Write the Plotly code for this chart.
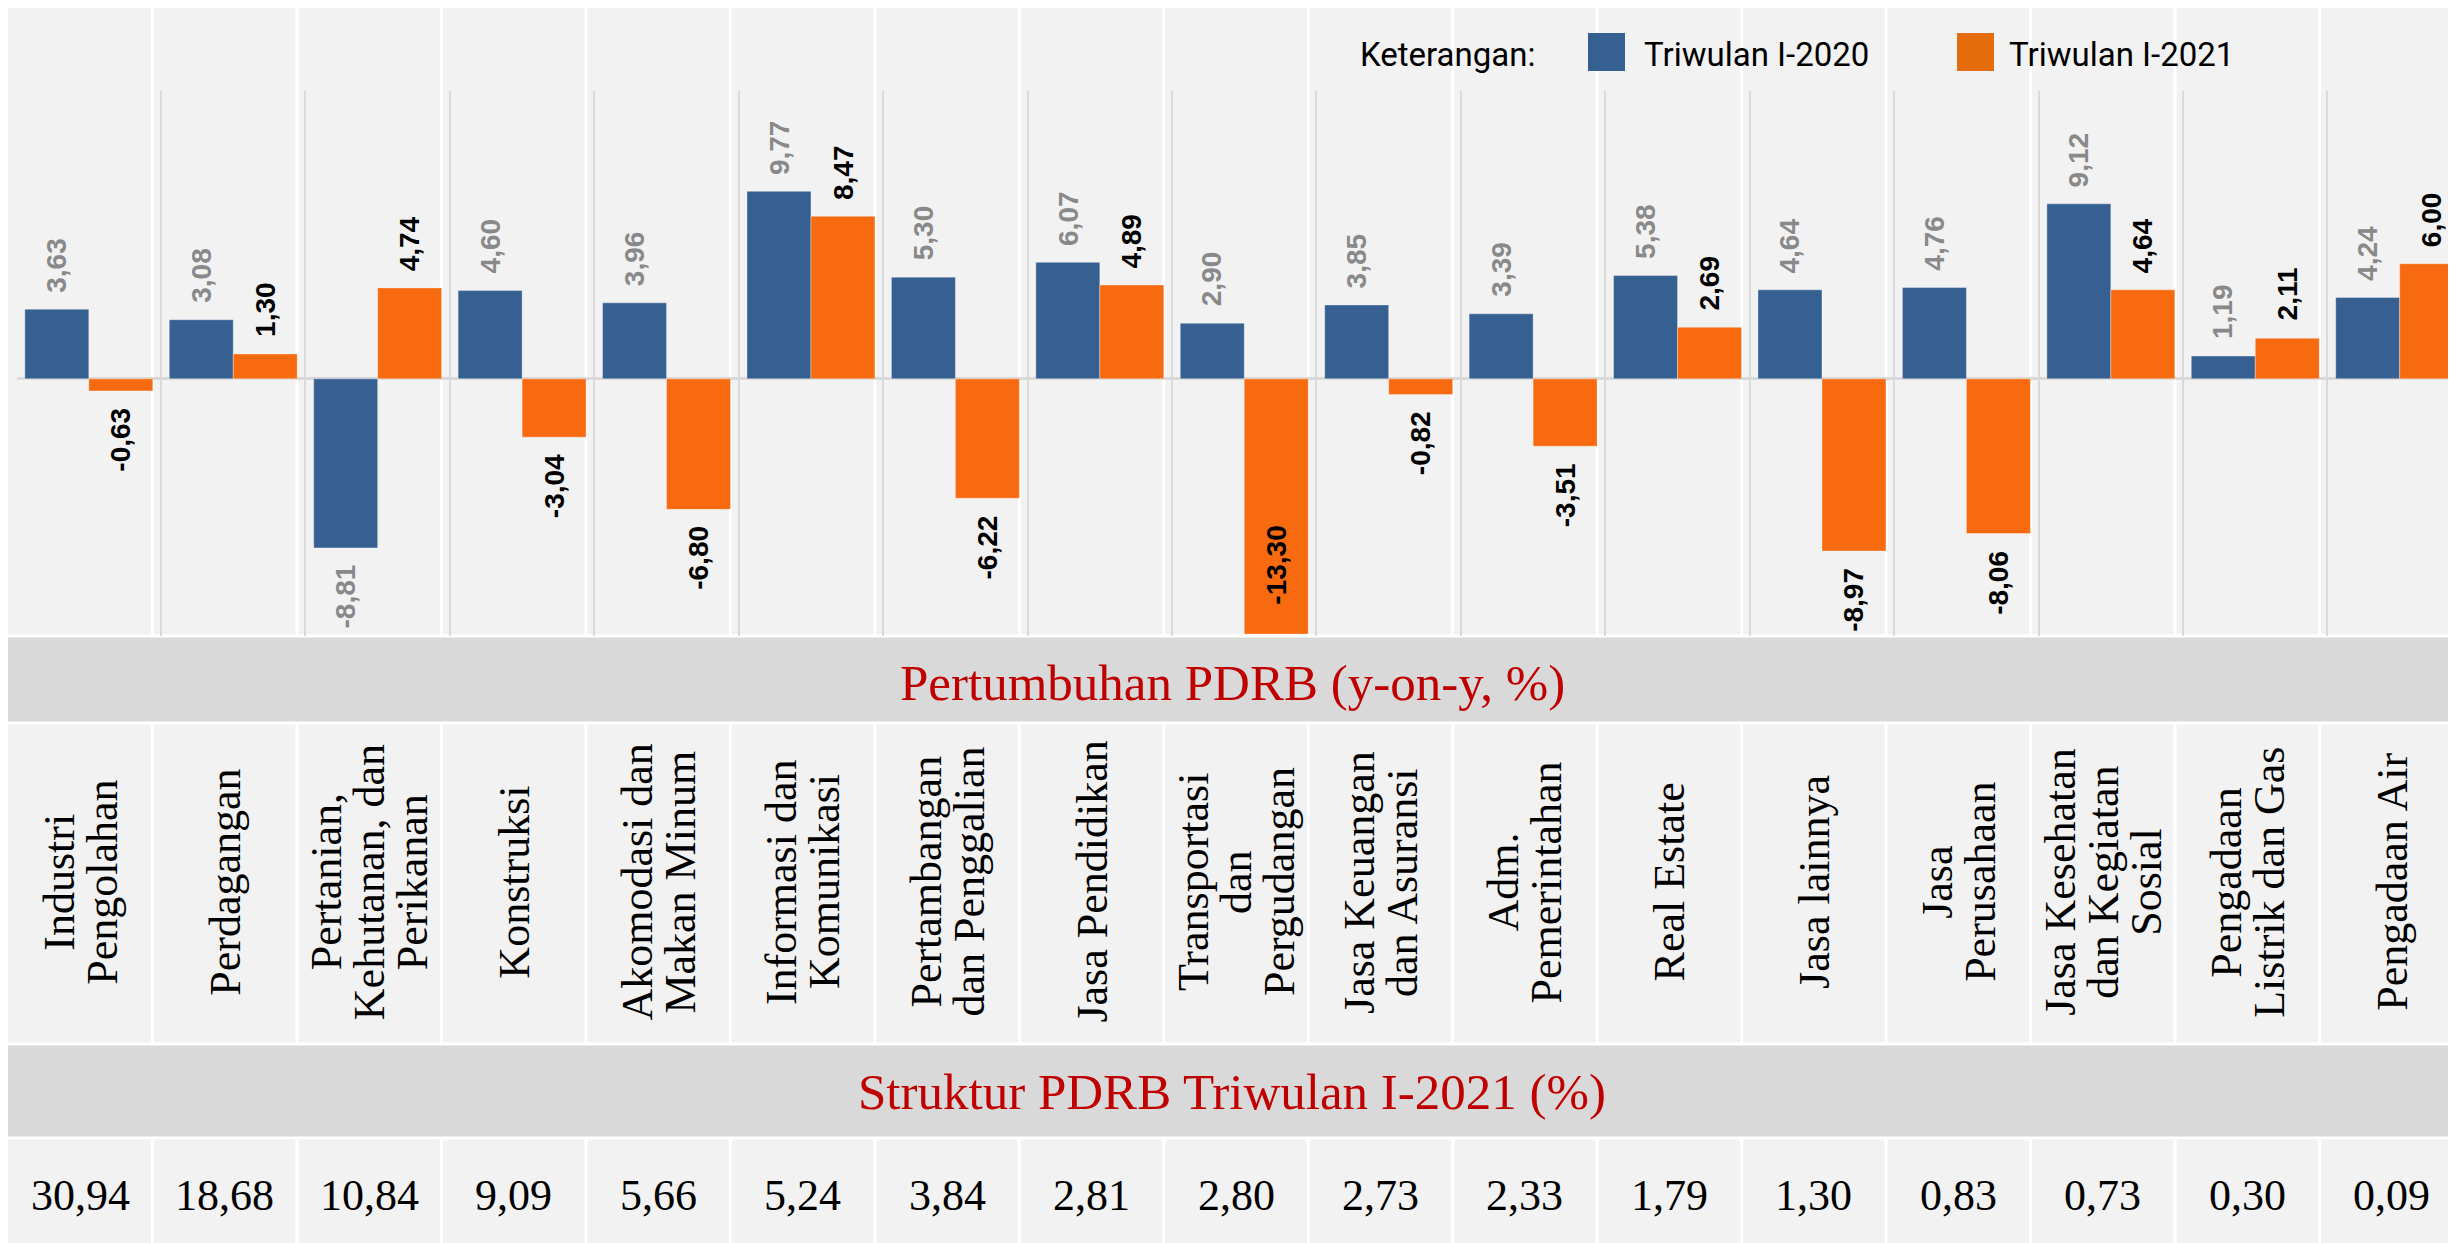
import plotly.graph_objects as go

# data
CATEGORIES = [
    "Industri\nPengolahan",
    "Perdagangan",
    "Pertanian,\nKehutanan, dan\nPerikanan",
    "Konstruksi",
    "Akomodasi dan\nMakan Minum",
    "Informasi dan\nKomunikasi",
    "Pertambangan\ndan Penggalian",
    "Jasa Pendidikan",
    "Transportasi\ndan\nPergudangan",
    "Jasa Keuangan\ndan Asuransi",
    "Adm.\nPemerintahan",
    "Real Estate",
    "Jasa lainnya",
    "Jasa\nPerusahaan",
    "Jasa Kesehatan\ndan Kegiatan\nSosial",
    "Pengadaan\nListrik dan Gas",
    "Pengadaan Air",
]
SERIES = ["Triwulan I-2020", "Triwulan I-2021"]
GROWTH_2020 = [3.63, 3.08, -8.81, 4.60, 3.96, 9.77, 5.30, 6.07, 2.90, 3.85,
               3.39, 5.38, 4.64, 4.76, 9.12, 1.19, 4.24]
GROWTH_2021 = [-0.63, 1.30, 4.74, -3.04, -6.80, 8.47, -6.22, 4.89, -13.30, -0.82,
               -3.51, 2.69, -8.97, -8.06, 4.64, 2.11, 6.00]
SHARE_2021 = [30.94, 18.68, 10.84, 9.09, 5.66, 5.24, 3.84, 2.81, 2.80, 2.73,
              2.33, 1.79, 1.30, 0.83, 0.73, 0.30, 0.09]
LEGEND_TITLE = "Keterangan:"
BAND_GROWTH = "Pertumbuhan PDRB (y-on-y, %)"
BAND_SHARE = "Struktur PDRB Triwulan I-2021 (%)"

W, H = 2456, 1243
BLUE = "#366091"
ORANGE = "#F76A10"
LEGEND_ORANGE = "#E46C0A"
PANEL_BG = "#F2F2F2"
BAND_BG = "#D9D9D9"
GRID = "#D9D9D9"
RED = "#C00000"
LABEL_GRAY = "#898989"

SANS = "Liberation Sans, Arial, sans-serif"
SERIF = "Liberation Serif, Times New Roman, serif"
LEGEND_FONT = "Roboto, Liberation Sans, sans-serif"

# layout in figure pixels
PLOT_LEFT, CAT_W = 8.6, 144.43
PLOT_TOP, PLOT_BOTTOM = 83, 628
BAND1 = (628, 715)
CAT_ROW = (715, 1036)
BAND2 = (1036, 1130)
VAL_CENTER = 1187
Y_RANGE = [-13.4, 15]
BAR_GAP = 0.114
LABEL_SIZE = 28
LABEL_GAP = 17
LINE_STEP = 43

# Liberation Sans Bold advance widths (em) for the label glyphs
GLYPH_W = {"-": 0.333, ",": 0.278}


def px_x(p):
    return p / W


def px_y(p):
    return 1 - p / H


def fmt(v):
    return f"{v:.2f}".replace(".", ",")


def text_len(s, size):
    return sum(GLYPH_W.get(c, 0.556) for c in s) * size


idx = list(range(len(CATEGORIES)))
ncol = len(CATEGORIES)

fig = go.Figure()
for name, vals, color in [(SERIES[0], GROWTH_2020, BLUE), (SERIES[1], GROWTH_2021, ORANGE)]:
    fig.add_bar(
        x=idx, y=vals, name=name, marker_color=color,
        marker_line=dict(width=1, color="rgba(255,255,255,0.35)"),
    )

annotations = []
shapes = []

# value labels on the bars (rotated, centred, pushed past the bar end)
half = (1 - BAR_GAP) / 4
for s, (vals, color) in enumerate([(GROWTH_2020, LABEL_GRAY), (GROWTH_2021, "#000000")]):
    off = -half if s == 0 else half
    for i, v in enumerate(vals):
        txt = fmt(v)
        half_len = text_len(txt, LABEL_SIZE) / 2
        if v >= 0:
            shift = LABEL_GAP + half_len
        elif v - Y_RANGE[0] < 1:
            # bar almost fills the axis: label goes inside, near the end
            shift = 29 + half_len
        else:
            shift = -(LABEL_GAP + half_len)
        annotations.append(dict(
            x=i + off, y=v, xref="x", yref="y", text=txt, showarrow=False,
            textangle=-90, xanchor="center", yanchor="middle", yshift=shift,
            font=dict(family=SANS, size=LABEL_SIZE, color=color, weight="bold"),
        ))

# table grid: white column separators and grey title bands
for k in range(1, ncol):
    for top, bottom in [(0, PLOT_BOTTOM), CAT_ROW, (BAND2[1], H)]:
        shapes.append(dict(type="line", xref="paper", yref="paper", layer="below",
                           x0=k / ncol, x1=k / ncol, y0=px_y(bottom), y1=px_y(top),
                           line=dict(color="white", width=3)))
for top, bottom in [BAND1, BAND2]:
    shapes.append(dict(type="rect", xref="paper", yref="paper", layer="below",
                       x0=-0.01, x1=1.01, y0=px_y(bottom), y1=px_y(top),
                       fillcolor=BAND_BG, line=dict(color="white", width=3)))

band_font = dict(family=SERIF, size=51, color=RED)
annotations.append(dict(x=px_x(1224), y=px_y(675), xref="paper", yref="paper",
                        xanchor="center", yanchor="middle",
                        text=BAND_GROWTH, showarrow=False, font=band_font))
annotations.append(dict(x=px_x(1224), y=px_y(1084), xref="paper", yref="paper",
                        xanchor="center", yanchor="middle",
                        text=BAND_SHARE, showarrow=False, font=band_font))

# category labels, one annotation per line so the line step can be tight
cat_y = px_y(874)
for i, label in enumerate(CATEGORIES):
    lines = label.split("\n")
    n = len(lines)
    for j, line in enumerate(lines):
        annotations.append(dict(
            x=(i + 0.5) / ncol, y=cat_y, xref="paper", yref="paper", text=line,
            showarrow=False, textangle=-90, xanchor="center", yanchor="middle",
            xshift=(j - (n - 1) / 2) * LINE_STEP,
            font=dict(family=SERIF, size=44, color="#000000"),
        ))

# share row
for i, v in enumerate(SHARE_2021):
    annotations.append(dict(x=(i + 0.5) / ncol, y=px_y(VAL_CENTER), xref="paper", yref="paper",
                            text=fmt(v), showarrow=False, xanchor="center", yanchor="middle",
                            font=dict(family=SERIF, size=44, color="#000000")))

# hand-built legend
leg_font = dict(family=LEGEND_FONT, size=33, color="#000000")
leg_y = px_y(46)
annotations.append(dict(x=px_x(1350), y=leg_y, xref="paper", yref="paper", text=LEGEND_TITLE,
                        showarrow=False, xanchor="left", yanchor="middle", font=leg_font))
for name, color, sq_x, txt_x in [(SERIES[0], BLUE, 1580, 1634), (SERIES[1], LEGEND_ORANGE, 1949, 1999)]:
    shapes.append(dict(type="rect", xref="paper", yref="paper",
                       x0=px_x(sq_x), x1=px_x(sq_x + 37), y0=px_y(63), y1=px_y(25),
                       fillcolor=color, line_width=0))
    annotations.append(dict(x=px_x(txt_x), y=leg_y, xref="paper", yref="paper", text=name,
                            showarrow=False, xanchor="left", yanchor="middle", font=leg_font))

fig.update_layout(
    width=W, height=H,
    margin=dict(l=0, r=0, t=0, b=0),
    paper_bgcolor=PANEL_BG,
    plot_bgcolor="rgba(0,0,0,0)",
    barmode="group", bargap=BAR_GAP, bargroupgap=0,
    showlegend=False,
    shapes=shapes,
    annotations=annotations,
    xaxis=dict(
        domain=[px_x(PLOT_LEFT), 1],
        range=[-0.5, -0.5 + (W - PLOT_LEFT) / CAT_W],
        tickmode="linear", tick0=-0.5, dtick=1,
        showgrid=True, gridcolor=GRID, gridwidth=2,
        showticklabels=False, zeroline=False, showline=False, ticks="",
    ),
    yaxis=dict(
        domain=[px_y(PLOT_BOTTOM), px_y(PLOT_TOP)],
        range=Y_RANGE,
        showgrid=False, showticklabels=False, ticks="",
        zeroline=True, zerolinecolor=GRID, zerolinewidth=3,
    ),
)

fig.write_html("out.html")
